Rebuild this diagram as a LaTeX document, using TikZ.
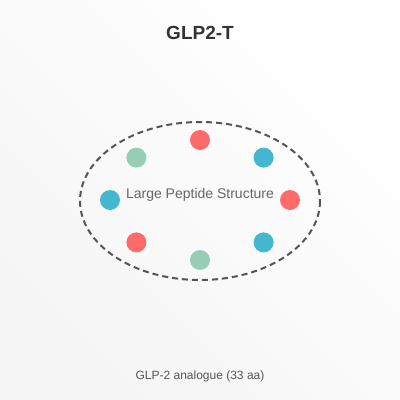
\documentclass[tikz,border=0pt]{standalone}
\usepackage{fontspec}
\setmainfont{Liberation Sans}
\definecolor{bgtop}{HTML}{F5F5F5}
\definecolor{bgbot}{HTML}{FFFFFF}
\definecolor{pred}{HTML}{FF6B6B}
\definecolor{pblue}{HTML}{45B7D1}
\definecolor{pgreen}{HTML}{96CEB4}
\definecolor{ringc}{HTML}{555555}
\definecolor{titlec}{HTML}{333333}
\definecolor{labelc}{HTML}{666666}
\definecolor{capc}{HTML}{555555}
\begin{document}
\begin{tikzpicture}[x=1pt,y=-1pt,
  bead/.style={circle,inner sep=0pt,minimum size=20pt},
  ring/.style={draw=ringc,line width=2pt,dash pattern=on 6pt off 4pt}]
\shade[left color=bgtop,right color=bgbot,shading angle=135] (0,0) rectangle (400,400);
\useasboundingbox (0,0) rectangle (400,400);
\node[text=titlec,font=\fontsize{19}{22}\selectfont\bfseries] (title) at (200,33) {GLP2-T};
\draw[ring] (200,201) ellipse [x radius=120, y radius=79];
\node[bead,fill=pred] (b1) at (200,140) {};
\node[bead,fill=pblue] (b2) at (263.6,157.6) {};
\node[bead,fill=pred] (b3) at (290,200) {};
\node[bead,fill=pblue] (b4) at (263.6,242.4) {};
\node[bead,fill=pgreen] (b5) at (200,260) {};
\node[bead,fill=pred] (b6) at (136.4,242.4) {};
\node[bead,fill=pblue] (b7) at (110,200) {};
\node[bead,fill=pgreen] (b8) at (136.4,157.6) {};
\node[text=labelc,font=\fontsize{14}{16}\selectfont] (lbl) at (200,195) {Large Peptide Structure};
\node[text=capc,font=\fontsize{12}{14}\selectfont] (cap) at (200,376) {GLP-2 analogue (33 aa)};
\end{tikzpicture}
\end{document}
